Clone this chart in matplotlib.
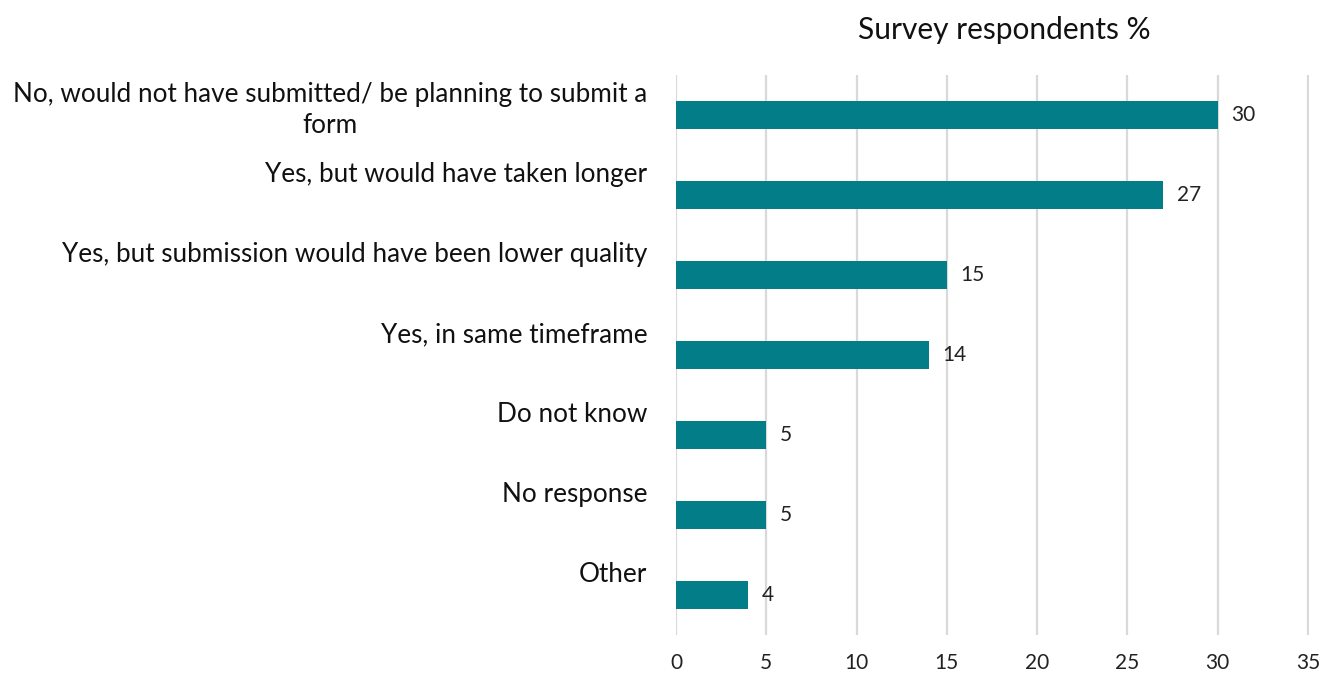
import matplotlib.pyplot as plt
import numpy as np

# categories and values
labels = ["No, would not have submitted/ be planning to submit a\nform",
          "Yes, but would have taken longer",
          "Yes, but submission would have been lower quality",
          "Yes, in same timeframe",
          "Do not know",
          "No response",
          "Other"]
values = [30, 27, 15, 14, 5, 5, 4]
xticks = [0, 5, 10, 15, 20, 25, 30, 35]

plt.rcParams['font.family'] = ['Lato', 'DejaVu Sans']

fig = plt.figure(figsize=(13.27, 6.73), dpi=100)
ax = fig.add_axes([0.5094, 0.0565, 0.4769, 0.8321])

y = np.arange(len(values))
ax.barh(y, values, height=0.36, color='#037e88', zorder=3)
ax.set_ylim(len(values) - 0.5, -0.5)
ax.set_xlim(0, 35.05)
ax.set_xticks(xticks)
ax.tick_params(axis='x', length=0, labelsize=15, pad=13, colors='#222222')
ax.set_yticks([])
for s in ax.spines.values():
    s.set_visible(False)
ax.grid(axis='x', color='#d9d9d9', linewidth=1.6, zorder=0)

for i, v in enumerate(values):
    ax.text(v + 0.75, i, str(v), va='center', ha='left', fontsize=15, color='#222222')

for i, lab in enumerate(labels):
    n = lab.count('\n') + 1
    off = -0.25 + 0.19 * (n - 1)
    ax.text(-0.045, i + off, lab, transform=ax.get_yaxis_transform(), ha='right',
            va='center', multialignment='center', fontsize=18.8, color='#111111',
            linespacing=1.32)

fig.text(0.757, 0.955, "Survey respondents %", ha='center', va='center', fontsize=21.5,
         color='#111111')

fig.savefig("out.png", dpi=100)
